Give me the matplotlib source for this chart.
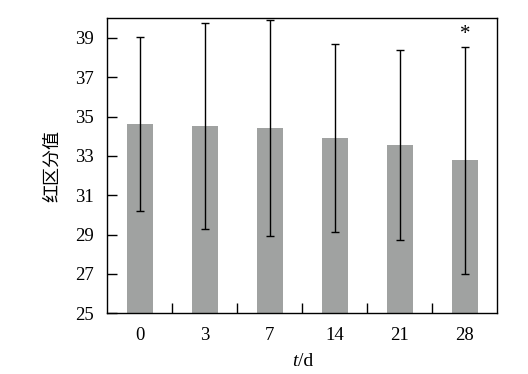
import matplotlib
matplotlib.use("Agg")
import matplotlib.pyplot as plt
from matplotlib.ticker import FixedLocator

# data
days = ["0", "3", "7", "14", "21", "28"]
means = [34.62, 34.53, 34.42, 33.91, 33.55, 32.78]
errs = [4.41, 5.24, 5.50, 4.76, 4.84, 5.78]
marks = ["", "", "", "", "", "*"]

plt.rcParams['font.family'] = ['Liberation Serif', 'Noto Sans CJK SC']
plt.rcParams['font.size'] = 13.5

fig = plt.figure(figsize=(5.28, 3.74), dpi=100)
ax = fig.add_axes([107.3/528, 1 - 313.3/374, 390/528, 295/374])

x = list(range(len(days)))
ax.bar(x, means, width=0.4, color="#a0a2a1", zorder=1)
ax.errorbar(x, means, yerr=errs, fmt="none", ecolor="black",
            elinewidth=1, capsize=3, capthick=1, zorder=2)

for i in x:
    if marks[i]:
        ax.text(i, means[i] + errs[i] + 0.15, marks[i], ha="center",
                va="bottom", fontsize=15, color="black")

ax.set_xlim(-0.5, len(days) - 0.5)
ax.set_ylim(25, 40)
ax.set_yticks([25, 27, 29, 31, 33, 35, 37, 39])
ax.set_xticks(x)
ax.set_xticklabels(days)
ax.tick_params(axis="x", which="major", length=0, pad=10)
ax.xaxis.set_minor_locator(FixedLocator([i + 0.5 for i in x[:-1]]))
ax.tick_params(axis="x", which="minor", direction="in", length=7, width=1)
ax.tick_params(axis="y", direction="in", length=7, width=1, pad=10)

for s in ax.spines.values():
    s.set_linewidth(1)

ax.set_ylabel("红区分值", family=['Noto Sans CJK SC'], fontsize=13, labelpad=10)

# x label: italic t followed by upright /d
fig.text(297.5/528, 1 - 366/374, "t", style="italic", ha="right",
         va="baseline", fontsize=14)
fig.text(297.5/528, 1 - 366/374, "/d", ha="left", va="baseline", fontsize=14)

fig.savefig("out.png", dpi=100)
